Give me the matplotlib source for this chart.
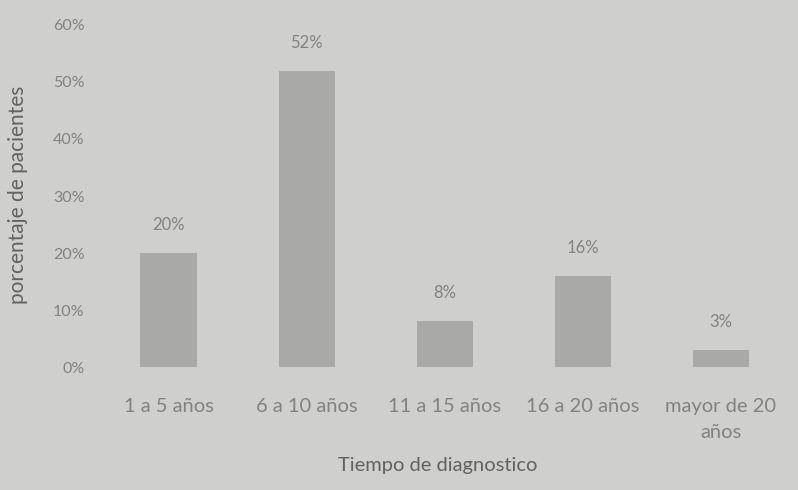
import matplotlib.pyplot as plt
import numpy as np

# data
categorias = ['1 a 5 años', '6 a 10 años', '11 a 15 años', '16 a 20 años', 'mayor de 20\naños']
porcentajes = [20, 52, 8, 16, 3]
y_ticks = [0, 10, 20, 30, 40, 50, 60]

bg = '#cfcfcd'
bar_color = '#a9a9a8'
text_color = '#828282'
label_color = '#626262'

plt.rcParams['font.family'] = ['Lato', 'DejaVu Sans']

fig = plt.figure(figsize=(7.98, 4.9), dpi=100, facecolor=bg)
ax = fig.add_axes([0.125, 0.251, 0.865, 0.698])
ax.set_facecolor(bg)

x = np.arange(len(categorias))
bars = ax.bar(x, porcentajes, width=0.41, color=bar_color)

for b, v in zip(bars, porcentajes):
    ax.text(b.get_x() + b.get_width() / 2, v + 3.5, f'{v}%',
            ha='center', va='bottom', fontsize=12, color=text_color)

ax.set_ylim(0, 60)
ax.set_xlim(-0.5, len(categorias) - 0.5)
ax.set_yticks(y_ticks)
ax.set_yticklabels([f'{t}%' for t in y_ticks])
ax.set_xticks(x)
ax.set_xticklabels(categorias)
ax.tick_params(axis='both', length=0, colors=text_color)
ax.tick_params(axis='x', pad=22, labelsize=14.5)
ax.tick_params(axis='y', pad=11, labelsize=11.5)
for t in ax.get_xticklabels():
    t.set_linespacing(1.7)

for s in ax.spines.values():
    s.set_visible(False)

ax.set_xlabel('Tiempo de diagnostico', fontsize=14.5, color=label_color)
ax.xaxis.set_label_coords(0.49, -0.287)
ax.xaxis.label.set_va('center')
ax.set_ylabel('porcentaje de pacientes', fontsize=15, color=label_color)
ax.yaxis.set_label_coords(-0.119, 0.503)
ax.yaxis.label.set_va('center')

plt.savefig('out.png', dpi=100, facecolor=bg)
plt.close()
